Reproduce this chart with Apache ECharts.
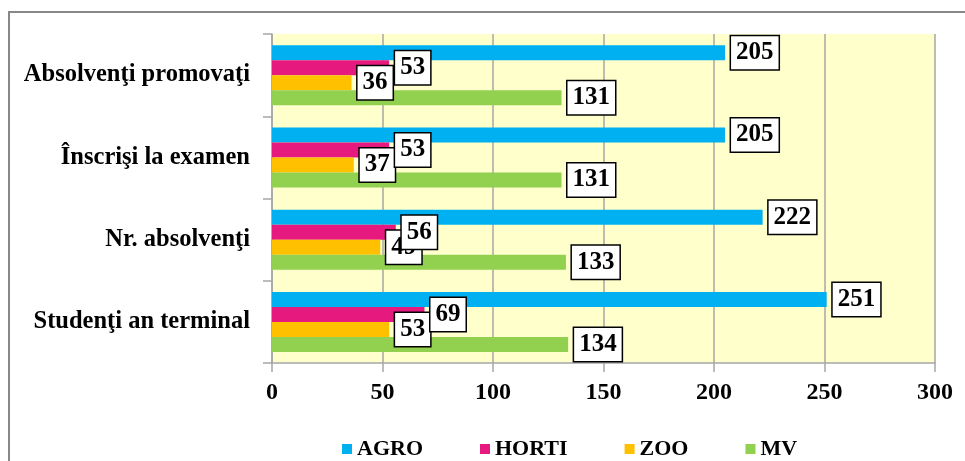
<!DOCTYPE html>
<html><head><meta charset="utf-8">
<script src="https://cdn.jsdelivr.net/npm/echarts@6/dist/echarts.min.js"></script>
<style>html,body{margin:0;padding:0;background:#fff}#c{width:965px;height:461px}</style>
</head><body><div id="c"></div>
<script>
var categories = ['Absolvenţi promovaţi', 'Înscrişi la examen', 'Nr. absolvenţi', 'Studenţi an terminal'];
var seriesNames = ['AGRO', 'HORTI', 'ZOO', 'MV'];
var agro = [205, 205, 222, 251];
var horti = [53, 53, 56, 69];
var zoo = [36, 37, 49, 53];
var mv = [131, 131, 133, 134];
var xTicks = [0, 50, 100, 150, 200, 250, 300];

var colors = ['#00B0F0', '#E6197F', '#FFC000', '#92D050'];
var values = [agro, horti, zoo, mv];
var labelZ = [10, 13, 12, 11];
var font = '"Liberation Serif", "Times New Roman", serif';

var chart = echarts.init(document.getElementById('c'));
var series = [];
seriesNames.forEach(function (n, i) {
  series.push({
    name: n, type: 'bar', data: values[i], barWidth: 15, barGap: '0%', yAxisIndex: 0,
    z: 2, itemStyle: { color: colors[i] }, label: { show: false }
  });
});
seriesNames.forEach(function (n, i) {
  series.push({
    name: n + '_lbl', type: 'bar', data: values[i], barWidth: 15, barGap: '0%', yAxisIndex: 1,
    z: labelZ[i], silent: true,
    itemStyle: { color: 'rgba(0,0,0,0)' },
    label: {
      show: true, position: 'right', distance: 6,
      fontFamily: font, fontWeight: 'bold', fontSize: 25, color: '#000',
      backgroundColor: '#fff', borderColor: '#000', borderWidth: 1.5,
      padding: [5, 5, 3, 5], lineHeight: 25
    }
  });
});
var yBase = {
  type: 'category', data: categories, inverse: true,
  axisLine: { show: true, lineStyle: { color: '#A6A6A6', width: 1.5 } },
  axisTick: { show: true, length: 9, lineStyle: { color: '#A6A6A6', width: 1.5 } },
  axisLabel: { margin: 22, fontFamily: font, fontWeight: 'bold', fontSize: 24.5, color: '#000' }
};
chart.setOption({
  animation: false,
  graphic: [{ type: 'rect', shape: { x: 9, y: 12, width: 1000, height: 500 }, style: { fill: 'none', stroke: '#888', lineWidth: 2 }, silent: true }],
  grid: { left: 272, right: 30, top: 34, bottom: 98, show: true, backgroundColor: '#FFFFCC', borderWidth: 0 },
  legend: {
    data: seriesNames, bottom: -4, left: 337, itemWidth: 10, itemHeight: 10, itemGap: 57, icon: 'rect',
    textStyle: { fontFamily: font, fontWeight: 'bold', fontSize: 22, color: '#000' }
  },
  xAxis: {
    type: 'value', min: xTicks[0], max: xTicks[xTicks.length - 1], interval: 50,
    axisLine: { show: true, lineStyle: { color: '#A6A6A6', width: 1.5 } },
    axisTick: { show: true, length: 9, lineStyle: { color: '#A6A6A6', width: 1.5 } },
    splitLine: { show: true, lineStyle: { color: '#A6A6A6', width: 1.5 } },
    axisLabel: { margin: 18, fontFamily: font, fontWeight: 'bold', fontSize: 24, color: '#000' }
  },
  yAxis: [
    yBase,
    { type: 'category', data: categories, inverse: true, position: 'left', show: false }
  ],
  series: series
});
</script></body></html>
